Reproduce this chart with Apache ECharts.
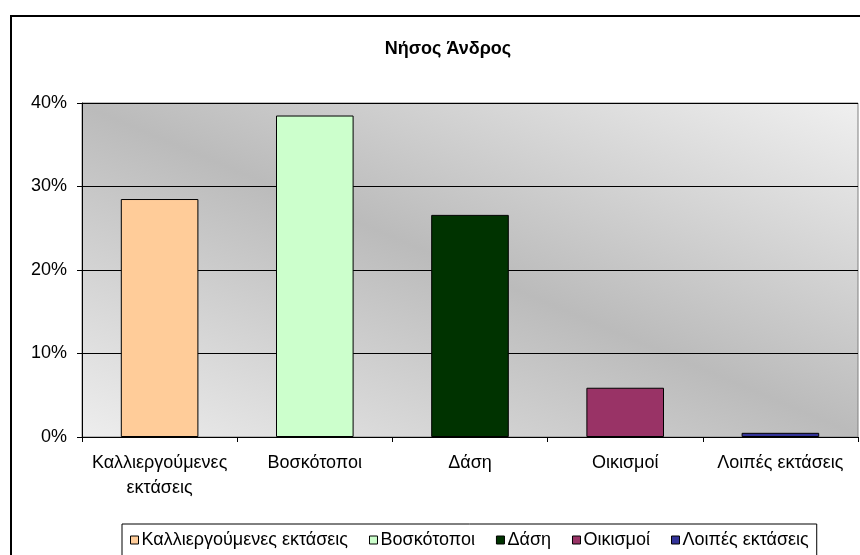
<!DOCTYPE html>
<html><head><meta charset="utf-8">
<script src="https://cdn.jsdelivr.net/npm/echarts@6/dist/echarts.min.js"></script>
<style>
html,body{margin:0;padding:0;background:#fff}
#wrap{position:relative;width:860px;height:555px;overflow:hidden}
#c{width:860px;height:555px}
#frame{position:absolute;left:10px;top:15px;width:880px;height:620px;border:2px solid #000;box-sizing:border-box;pointer-events:none}
</style></head><body>
<div id="wrap"><div id="c"></div><div id="frame"></div></div>
<script>
const chartTitle = 'Νήσος Άνδρος';
const categories = ['Καλλιεργούμενες εκτάσεις', 'Βοσκότοποι', 'Δάση', 'Οικισμοί', 'Λοιπές εκτάσεις'];
const values = [28.5, 38.5, 26.6, 5.9, 0.5];
const colors = ['#FFCC99', '#CCFFCC', '#003300', '#993366', '#333399'];
const yMin = 0, yMax = 40, yStep = 10;

const FONT = "'Liberation Sans', Arial, sans-serif";
const FS = 18;
const measureCtx = document.createElement('canvas').getContext('2d');
measureCtx.font = FS + 'px ' + FONT;
function wrapLabel(s) {
  if (measureCtx.measureText(s).width <= 150) return s;
  const words = s.split(' ');
  const lines = [];
  let cur = '';
  words.forEach(w => {
    const t = cur ? cur + ' ' + w : w;
    if (cur && measureCtx.measureText(t).width > 150) { lines.push(cur); cur = w; }
    else cur = t;
  });
  if (cur) lines.push(cur);
  return lines.join('\n');
}

const chart = echarts.init(document.getElementById('c'), null, {renderer: 'canvas'});

const series = categories.map((name, i) => ({
  name: name,
  type: 'bar',
  stack: 'all',
  barWidth: '50%',
  data: values.map((v, j) => (j === i ? v : '-')),
  itemStyle: {color: colors[i], borderColor: '#000', borderWidth: 1},
  emphasis: {disabled: true}
}));

chart.setOption({
  animation: false,
  textStyle: {fontFamily: FONT},
  title: {
    text: chartTitle, left: 443, top: 35, textAlign: 'center',
    textStyle: {fontFamily: FONT, fontSize: FS, fontWeight: 'bold', color: '#000'}
  },
  legend: {
    left: 122, top: 524,
    padding: [7, 8, 40, 8],
    borderColor: '#000', borderWidth: 1,
    itemWidth: 8, itemHeight: 8, itemGap: 21,
    icon: 'rect',
    itemStyle: {borderColor: '#000', borderWidth: 1},
    textStyle: {fontFamily: FONT, fontSize: FS, color: '#000', padding: [0, 0, 0, -2]},
    data: categories
  },
  grid: {
    left: 82, right: 2, top: 103, bottom: 118,
    show: true,
    borderColor: '#808080', borderWidth: 1,
    backgroundColor: new echarts.graphic.LinearGradient(0.345, 1.345, 0.655, -0.345, [
      {offset: 0, color: '#eeeeee'},
      {offset: 0.5, color: '#bbbbbb'},
      {offset: 1, color: '#f0f0f0'}
    ])
  },
  xAxis: {
    type: 'category',
    data: categories,
    axisLine: {lineStyle: {color: '#000', width: 1}},
    axisTick: {show: true, length: 5, lineStyle: {color: '#000'}},
    axisLabel: {
      color: '#000', fontFamily: FONT, fontSize: FS, margin: 14, lineHeight: 25,
      interval: 0, formatter: wrapLabel
    }
  },
  yAxis: {
    type: 'value', min: yMin, max: yMax, interval: yStep,
    axisLine: {show: true, lineStyle: {color: '#000', width: 1}},
    axisTick: {show: true, length: 5, lineStyle: {color: '#000'}},
    axisLabel: {color: '#000', fontFamily: FONT, fontSize: FS, margin: 15, formatter: v => v + '%'},
    splitLine: {show: true, lineStyle: {color: '#000', width: 1}}
  },
  series: series
});
</script>
</body></html>
